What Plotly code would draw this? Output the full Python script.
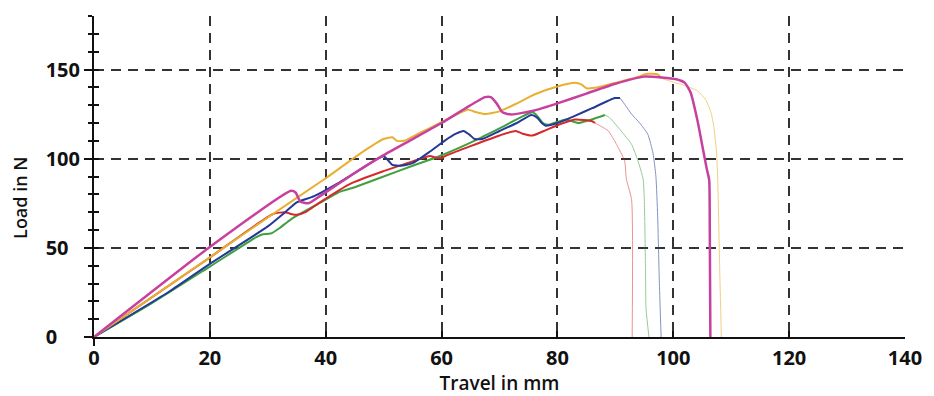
import plotly.graph_objects as go

# ---- data (Travel in mm, Load in N) ----
mag_x = [0, 20, 34, 34.8, 35.6, 37, 39, 45, 50, 55, 60, 64, 67.5, 68.5, 69.5, 70.5, 72, 76, 80, 85, 90, 95, 98,
         100.5, 102, 103, 104.2, 105.2, 105.8, 106.2, 106.3, 106.4]
mag_y = [0, 50.5, 82, 81, 76, 75, 79, 92, 102, 111, 120, 128, 134.5, 134.5, 131, 126, 124.8, 127, 131, 136.5, 142, 146, 145.5,
         144.5, 142.5, 137, 121, 104, 94, 88, 60, 0]

yel_x = [0, 30, 40, 46, 50, 51.5, 52.3, 53.5, 56, 60, 64.5, 66, 67.5, 70, 73, 76, 80, 83, 84.2, 85, 87, 90, 94, 95.5, 97.3, 98]
yel_y = [0, 67, 89, 103, 111, 112, 110, 110, 114, 120.5, 127.5, 126, 125, 126.5, 131, 136, 140.5, 142.5, 141.5, 139.5, 140, 142.5, 146, 147.6, 147.3, 145]
yel_fall_x = [98, 100.2, 102, 104.2, 105.6, 106.5, 107, 107.5, 107.7, 108, 108.3]
yel_fall_y = [145, 142.7, 141, 138, 133, 126, 118, 102, 85, 40, 0]

blu_x = [0, 13, 20, 30, 33, 35, 38, 42, 46, 49, 50, 50.8, 51.5, 53, 55, 58, 60.5, 62.5, 63.8, 64.8, 65.7, 67, 70, 73, 75.5,
         76.5, 77.3, 78, 80, 83, 86, 89.9, 90.8]
blu_y = [0, 25.5, 41, 62, 70, 75.5, 79, 86, 94, 100, 101.3, 99, 96.5, 96, 97.5, 104, 110, 114, 115.5, 113.5, 111, 111, 115.5,
         120, 124.5, 123, 120, 118.5, 120, 124, 128.3, 134, 134]
blu_fall_x = [90.8, 91.6, 92.8, 94.2, 95.6, 96.5, 97.0, 97.3, 97.6, 97.9]
blu_fall_y = [134, 130.5, 125, 120, 113.7, 103, 90, 68, 30, 0]

grn_x = [0, 10, 20, 28, 29, 30.5, 32, 34, 38.6, 42.5, 44, 45, 50, 55, 59.7, 65, 70, 75.7, 76.5, 77.5, 78.5, 81.4, 83.6,
         85.9, 88.2]
grn_y = [0, 19, 39.5, 56, 57.5, 58, 61, 66, 74.5, 81.5, 83, 84, 90, 96, 101.5, 109, 117, 126, 124, 120, 119, 122, 120,
         122, 124.5]
grn_fall_x = [88.2, 89, 91, 92.8, 93.9, 94.8, 95, 95.2, 95.3, 95.8]
grn_fall_y = [124.5, 123, 115.5, 108, 98.8, 88.5, 77, 40, 15.7, 0]

red_x = [0, 20, 30.9, 33, 34, 35, 36.5, 39, 44.3, 50, 55, 58, 59, 60, 61, 65, 70, 72.8, 74, 75.7, 78, 80.2, 83, 86, 86.5]
red_y = [0, 44.6, 69, 70, 69, 68.5, 70, 75.5, 86, 93, 98.5, 101.5, 100.5, 100.5, 102, 107, 113, 115.5, 114, 113, 116, 119,
         122, 121, 120]
red_fall_x = [86.5, 88.8, 90.2, 91.6, 91.9, 92.8, 92.9]
red_fall_y = [120, 115.5, 108, 98.8, 88.5, 77, 0]

x_ticks = [0, 20, 40, 60, 80, 100, 120, 140]
x_grid = [20, 40, 60, 80, 100, 120]
y_major = [0, 50, 100, 150]
y_grid = [50, 100, 150]

X_RANGE = [0, 140]
Y_RANGE = [0, 180]

FONT = "Open Sans"
C_MAG = "#C8409F"
C_YEL = "#E8B030"
C_BLU = "#233A96"
C_GRN = "#40A040"
C_RED = "#D42A2A"

fig = go.Figure()

def add(x, y, color, width, opacity=1.0):
    fig.add_trace(go.Scatter(x=x, y=y, mode="lines", line=dict(color=color, width=width, shape="spline", smoothing=0.5),
                             opacity=opacity, showlegend=False, hoverinfo="skip"))

# thin falling tails first
add(red_fall_x, red_fall_y, C_RED, 1, 0.5)
add(grn_fall_x, grn_fall_y, C_GRN, 1, 0.55)
add(blu_fall_x, blu_fall_y, C_BLU, 1, 0.55)
add(yel_fall_x, yel_fall_y, C_YEL, 1, 0.6)
# main curves
add(grn_x, grn_y, C_GRN, 2)
add(red_x, red_y, C_RED, 2)
add(blu_x, blu_y, C_BLU, 2)
add(yel_x, yel_y, C_YEL, 2)
add(mag_x, mag_y, C_MAG, 2.5)

# invisible trace for the overlay axes
fig.add_trace(go.Scatter(x=[None], y=[None], xaxis="x2", yaxis="y2", showlegend=False, hoverinfo="skip"))

pad = lambda s: s + "\u2007" * (3 - len(s))

fig.update_layout(
    width=934, height=396,
    margin=dict(l=94, r=21, t=16, b=58),
    paper_bgcolor="white", plot_bgcolor="white",
    font=dict(family=FONT, size=20, color="#111"),
    xaxis=dict(range=X_RANGE, tickvals=x_ticks, ticks="inside", ticklen=6, tickwidth=1.5, tickcolor="#111",
               showline=True, linecolor="#111", linewidth=2, showgrid=False, zeroline=False,
               tickfont=dict(family=FONT, size=20, weight=700), ticklabelstandoff=2,
               title=dict(text="Travel in mm", font=dict(family=FONT, size=19, weight=600), standoff=0)),
    yaxis=dict(range=Y_RANGE, tickvals=y_major, ticktext=[pad(str(v)) for v in y_major],
               ticks="outside", ticklen=8, tickwidth=2, tickcolor="#111",
               minor=dict(dtick=10, ticks="outside", ticklen=4, tickwidth=2, tickcolor="#111", showgrid=False),
               showline=True, linecolor="#111", linewidth=2, showgrid=False, zeroline=False,
               tickfont=dict(family=FONT, size=20, weight=700), ticklabelstandoff=0),
    xaxis2=dict(range=X_RANGE, overlaying="x", anchor="y", tickvals=x_grid, showticklabels=False, ticks="",
                showgrid=True, gridcolor="#333", gridwidth=1.5, griddash="10px,7px", zeroline=False, showline=False),
    yaxis2=dict(range=Y_RANGE, overlaying="y", anchor="x", tickvals=y_grid, showticklabels=False,
                ticks="inside", ticklen=5, tickwidth=2, tickcolor="#111",
                minor=dict(dtick=10, ticks="inside", ticklen=5, tickwidth=2, tickcolor="#111", showgrid=False),
                showgrid=True, gridcolor="#333", gridwidth=1.5, griddash="10px,7px", zeroline=False, showline=False),
    annotations=[dict(text="Load in N", textangle=-90, xref="paper", x=0, xshift=-74, xanchor="center",
                      yref="y", y=78, yanchor="middle", showarrow=False,
                      font=dict(family=FONT, size=18, weight=600, color="#111"))],
    shapes=[dict(type="line", xref="paper", yref="paper", x0=0, x1=0, y0=0, y1=-0.028,
                 line=dict(color="#111", width=2))],
)

fig.write_html("out.html")
